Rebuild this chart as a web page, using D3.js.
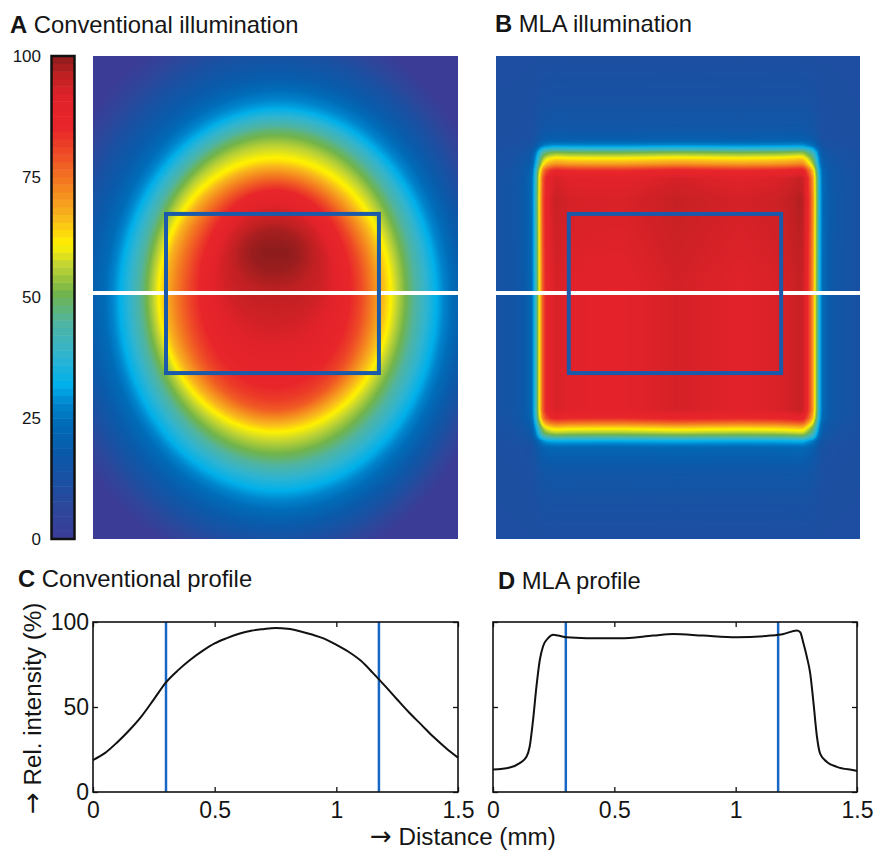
<!DOCTYPE html>
<html><head><meta charset="utf-8">
<script src="https://cdn.jsdelivr.net/npm/d3@7"></script>
<style>
body{margin:0;background:#fff;}
svg{display:block;font-family:"Liberation Sans",Arial,sans-serif;}
text{white-space:pre;}
</style>
</head><body>
<svg id="chart" width="876" height="850"></svg>
<script>
// ---------------- DATA ----------------
// Colour map (value % -> colour)
const colorStops = [0, 6, 12, 18, 24, 28, 32, 38, 45, 51, 57, 61, 67, 73, 79, 85, 91, 96, 100];
const colorHex = ["#3b3c96","#2e469a","#1a50a2","#0a5aaa","#006cb8","#0084cc","#00b0ea","#30b4d0","#50b4a0",
                  "#72b44a","#c6d630","#fff100","#f8b41e","#f4821f","#ef5225","#e8262a","#e2222a","#c02022","#8c1c1c"];
const colorbarTicks = [0, 25, 50, 75, 100];

// Panel C: conventional illumination, horizontal profile along the white line
const convDist = [0,0.05,0.1,0.15,0.2,0.25,0.3,0.35,0.4,0.45,0.5,0.55,0.6,0.65,0.7,0.75,0.8,0.85,0.9,0.95,1.0,1.05,1.1,1.15,1.2,1.25,1.3,1.35,1.4,1.45,1.5];
const convIntensity = [18.8,23,29.3,36.5,44.7,54.5,64.5,71.7,77.8,83,87.4,90.5,93.1,94.9,95.8,96.4,96.0,94.6,92.6,90.2,86.6,82.5,77.3,70.1,62.4,54.4,46.6,39.5,32.3,25.9,20.2];

// Panel A: conventional illumination, vertical profile through the centre column
const convVDist = [0,0.099,0.21,0.304,0.366,0.427,0.481,0.551,0.633,0.715,0.797,0.879,0.974,1.085,1.208,1.311,1.414,1.455,1.496,1.545,1.599,1.660,1.734,1.796,1.866,1.985];
const convVIntensity = [13,20,31,48,56,62,72,85,93,98,100,99,96,94,91,88,82,78,70,61,55,48,38,31,24,13];

// Panel D: MLA illumination, horizontal profile along the white line
const mlaDist = [0,0.069,0.110,0.138,0.151,0.165,0.179,0.193,0.206,0.227,0.248,0.268,0.303,0.385,0.523,0.660,0.743,0.866,1.004,1.142,1.197,1.252,1.266,1.279,1.293,1.307,1.321,1.335,1.348,1.376,1.417,1.486,1.5];
const mlaIntensity = [13.2,14.4,17,20.7,26.6,42.3,62,77.8,85.6,90.5,92.5,92,91,90.5,90.4,92,93,92,91,92,93,95,94,87.6,79.7,69.9,52,32.5,22.6,17.7,14.8,12.8,12.4];

// Panel B: MLA illumination, vertical profile through the centre column
const mlaVDist = [0,0.181,0.304,0.345,0.370,0.395,0.419,0.444,0.469,0.501,0.592,0.797,0.974,1.208,1.455,1.488,1.508,1.529,1.549,1.566,1.582,1.611,1.702,1.825,1.985];
const mlaVIntensity = [11,13,16,20,30,50,61,70,84,91,93,92,91,91,91,85,75,63,55,45,32,22,16,13,11];

// Region of interest (mm) and profile line position (mm)
const roiX = [0.3, 1.175];
const roiY = [0.649, 1.303];
const profileLineY = 0.974;
const fieldWidthMM = 1.5, fieldHeightMM = 1.985;

const xTicks = [0, 0.5, 1, 1.5];
const yTicks = [0, 50, 100];

// ---------------- DRAWING ----------------
const svg = d3.select("#chart");
const ink = "#151515";
const FONT = "Liberation Sans, Arial, sans-serif";
const color = d3.scaleLinear().domain(colorStops).range(colorHex).interpolate(d3.interpolateRgb).clamp(true);
const lut = d3.range(0, 1001).map(i => d3.color(color(i / 10)));

// For a profile seen from its peak, distance (mm) at which the level L = i/10 is reached
function levelWidths(fn, center, extent, dir) {
  const step = 0.001, N = Math.round(extent / step);
  const pm = new Float64Array(N + 1);
  let m = Infinity;
  for (let k = 0; k <= N; k++) { m = Math.min(m, fn(center + dir * k * step)); pm[k] = m; }
  const back = Math.min(50, N);
  let slope = (pm[N - back] - pm[N]) / (back * step);
  if (!(slope > 1)) slope = 1;
  const out = new Float64Array(1001);
  for (let i = 0; i <= 1000; i++) {
    const L = i / 10;
    if (pm[0] <= L) { out[i] = 0; continue; }
    if (pm[N] > L) { out[i] = extent + (pm[N] - L) / slope; continue; }
    let lo = 0, hi = N;
    while (hi - lo > 1) { const mid = (lo + hi) >> 1; if (pm[mid] > L) lo = mid; else hi = mid; }
    const t = (pm[lo] - L) / (pm[lo] - pm[hi] || 1);
    out[i] = (lo + t) * step;
  }
  return out;
}

function drawImage(x0, y0, w, h, valueAt) {
  const cv = document.createElement("canvas");
  cv.width = w; cv.height = h;
  const ctx = cv.getContext("2d");
  const img = ctx.createImageData(w, h);
  for (let j = 0; j < h; j++) {
    for (let i = 0; i < w; i++) {
      let val = valueAt(i, j);
      val = Math.max(0, Math.min(100, val));
      const c = lut[Math.round(val * 10)];
      const k = (j * w + i) * 4;
      img.data[k] = c.r; img.data[k + 1] = c.g; img.data[k + 2] = c.b; img.data[k + 3] = 255;
    }
  }
  ctx.putImageData(img, 0, 0);
  svg.append("image").attr("x", x0).attr("y", y0).attr("width", w).attr("height", h)
    .attr("preserveAspectRatio", "none").attr("href", cv.toDataURL());
}

function overlays(xs, ys, x0, w) {
  svg.append("line").attr("x1", x0).attr("x2", x0 + w)
    .attr("y1", ys(profileLineY)).attr("y2", ys(profileLineY))
    .attr("stroke", "#fff").attr("stroke-width", 4);
  svg.append("rect").attr("x", xs(roiX[0])).attr("y", ys(roiY[0]))
    .attr("width", xs(roiX[1]) - xs(roiX[0])).attr("height", ys(roiY[1]) - ys(roiY[0]))
    .attr("fill", "none").attr("stroke", "#1b5aa8").attr("stroke-width", 4);
}

// Panel A: elliptical level sets spanning the measured horizontal and vertical extents of each level
(function () {
  const x0 = 93, y0 = 56, w = 365, h = 483;
  const xs = d3.scaleLinear().domain([0, fieldWidthMM]).range([x0, x0 + w]);
  const ys = d3.scaleLinear().domain([0, fieldHeightMM]).range([y0, y0 + h]);
  const vI = d3.scaleLinear().domain(convVDist).range(convVIntensity).clamp(true);
  const k = d3.max(convVIntensity) / vI(profileLineY);
  const hI0 = d3.scaleLinear().domain(convDist).range(convIntensity).clamp(true);
  const hI = x => hI0(x) * k;
  const xc = convDist[d3.maxIndex(convIntensity)];
  const yc = convVDist[d3.maxIndex(convVIntensity)];
  const aL = levelWidths(hI, xc, xc, -1), aR = levelWidths(hI, xc, fieldWidthMM - xc, 1);
  const bT = levelWidths(vI, yc, yc, -1), bB = levelWidths(vI, yc, fieldHeightMM - yc, 1);
  const n = 1001;
  const xm = new Float64Array(n), xh = new Float64Array(n), ym = new Float64Array(n), yh = new Float64Array(n);
  for (let i = 0; i < n; i++) {
    const l = xc - aL[i], r = xc + aR[i], t = yc - bT[i], b = yc + bB[i];
    xm[i] = (l + r) / 2; xh[i] = (r - l) / 2; ym[i] = (t + b) / 2; yh[i] = (b - t) / 2;
  }
  const F = (x, y, i) => {
    const A = xh[i], B = yh[i];
    if (A === 0 || B === 0) return Infinity;
    const u = (x - xm[i]) / A, v = (y - ym[i]) / B;
    return u * u + v * v;
  };
  drawImage(x0, y0, w, h, (i, j) => {
    const x = xs.invert(x0 + i + 0.5);
    const y = ys.invert(y0 + j + 0.5);
    if (F(x, y, 0) > 1) return 0;
    let lo = 0, hi = 1000;
    while (hi - lo > 1) { const mid = (lo + hi) >> 1; if (F(x, y, mid) <= 1) lo = mid; else hi = mid; }
    return lo / 10;
  });
  overlays(xs, ys, x0, w);
})();

// Panel B: background-corrected product of horizontal and vertical profiles
(function () {
  const x0 = 496, y0 = 56, w = 364, h = 483;
  const xs = d3.scaleLinear().domain([0, fieldWidthMM]).range([x0, x0 + w]);
  const ys = d3.scaleLinear().domain([0, fieldHeightMM]).range([y0, y0 + h]);
  const hI = d3.scaleLinear().domain(mlaDist).range(mlaIntensity).clamp(true);
  const vI = d3.scaleLinear().domain(mlaVDist).range(mlaVIntensity).clamp(true);
  const bg = d3.min(mlaVIntensity);
  const vRef = vI(profileLineY);
  const hv = d3.range(w).map(i => hI(xs.invert(x0 + i + 0.5)));
  drawImage(x0, y0, w, h, (i, j) => {
    const vv = vI(ys.invert(y0 + j + 0.5));
    return bg + Math.max(0, hv[i] - bg) * Math.max(0, vv - bg) / (vRef - bg);
  });
  overlays(xs, ys, x0, w);
})();

// Colour bar
const cb = d3.scaleLinear().domain([0, 100]).range([539, 56]);
const nBands = 64;
svg.append("g").selectAll("rect").data(d3.range(nBands)).join("rect")
  .attr("x", 51).attr("width", 24)
  .attr("y", d => cb((d + 1) * 100 / nBands))
  .attr("height", d => cb(d * 100 / nBands) - cb((d + 1) * 100 / nBands) + 0.5)
  .attr("fill", d => color((d + 0.5) * 100 / nBands));
svg.append("rect").attr("x", 51.5).attr("y", 56).attr("width", 23).attr("height", 483)
  .attr("fill", "none").attr("stroke", "#111").attr("stroke-width", 2.5);
const cbAxis = svg.append("g").attr("transform", "translate(51,0)")
  .call(d3.axisLeft(cb).tickValues(colorbarTicks).tickSize(0).tickPadding(10));
cbAxis.select(".domain").remove();
cbAxis.selectAll("text").attr("font-size", 17).attr("fill", ink).attr("font-family", FONT);

// Profiles
function profile(x0, x1, y0, y1, dist, vals, showY) {
  const x = d3.scaleLinear().domain([0, 1.5]).range([x0, x1]);
  const y = d3.scaleLinear().domain([0, 100]).range([y1, y0]);
  const g = svg.append("g");
  const style = sel => {
    sel.select(".domain").remove();
    sel.selectAll("line").attr("stroke", "#111").attr("stroke-width", 1.3);
    sel.selectAll("text").attr("font-size", 23).attr("fill", ink).attr("font-family", FONT);
  };
  g.append("g").attr("transform", `translate(0,${y1})`)
    .call(d3.axisBottom(x).tickValues(xTicks).tickFormat(d3.format("")).tickSize(-5).tickPadding(10)).call(style);
  g.append("g").attr("transform", `translate(0,${y0})`)
    .call(d3.axisTop(x).tickValues(xTicks).tickFormat("").tickSize(-5)).call(style);
  g.append("g").attr("transform", `translate(${x0},0)`)
    .call(d3.axisLeft(y).tickValues(yTicks).tickFormat(showY ? d3.format("") : "").tickSize(-5).tickPadding(4)).call(style);
  g.append("g").attr("transform", `translate(${x1},0)`)
    .call(d3.axisRight(y).tickValues(yTicks).tickFormat("").tickSize(-5)).call(style);
  g.selectAll(".roi").data(roiX).join("line").attr("class", "roi")
    .attr("x1", d => x(d)).attr("x2", d => x(d)).attr("y1", y0).attr("y2", y1)
    .attr("stroke", "#1668c4").attr("stroke-width", 2.5);
  g.append("path").datum(d3.zip(dist, vals))
    .attr("d", d3.line().x(d => x(d[0])).y(d => y(d[1])).curve(d3.curveMonotoneX))
    .attr("fill", "none").attr("stroke", "#111").attr("stroke-width", 2);
  g.append("rect").attr("x", x0).attr("y", y0).attr("width", x1 - x0).attr("height", y1 - y0)
    .attr("fill", "none").attr("stroke", "#111").attr("stroke-width", 1.6);
}
profile(93, 458, 622, 792, convDist, convIntensity, true);
profile(493, 857, 622, 792, mlaDist, mlaIntensity, false);

// Titles
function title(x, y, letter, rest) {
  const t = svg.append("text").attr("x", x).attr("y", y).attr("font-size", 23.8).attr("fill", ink);
  t.append("tspan").attr("font-weight", "bold").text(letter);
  t.append("tspan").text(" " + rest);
}
title(10, 33, "A", "Conventional illumination");
title(495, 32, "B", "MLA illumination");
title(18, 587, "C", "Conventional profile");
title(498, 589, "D", "MLA profile");

// Axis labels
function arrowLabel(sel, rest) {
  sel.append("tspan").attr("font-family", "DejaVu Sans").attr("font-size", 26).text("\u2192");
  sel.append("tspan").text(" " + rest);
}
svg.append("text").attr("transform", "translate(41,814) rotate(-90)").attr("text-anchor", "start")
  .attr("font-size", 24.2).attr("fill", ink).call(arrowLabel, "Rel. intensity (%)");
svg.append("text").attr("x", 370).attr("y", 845).attr("font-size", 24.2).attr("fill", ink)
  .call(arrowLabel, "Distance (mm)");
</script>
</body></html>
